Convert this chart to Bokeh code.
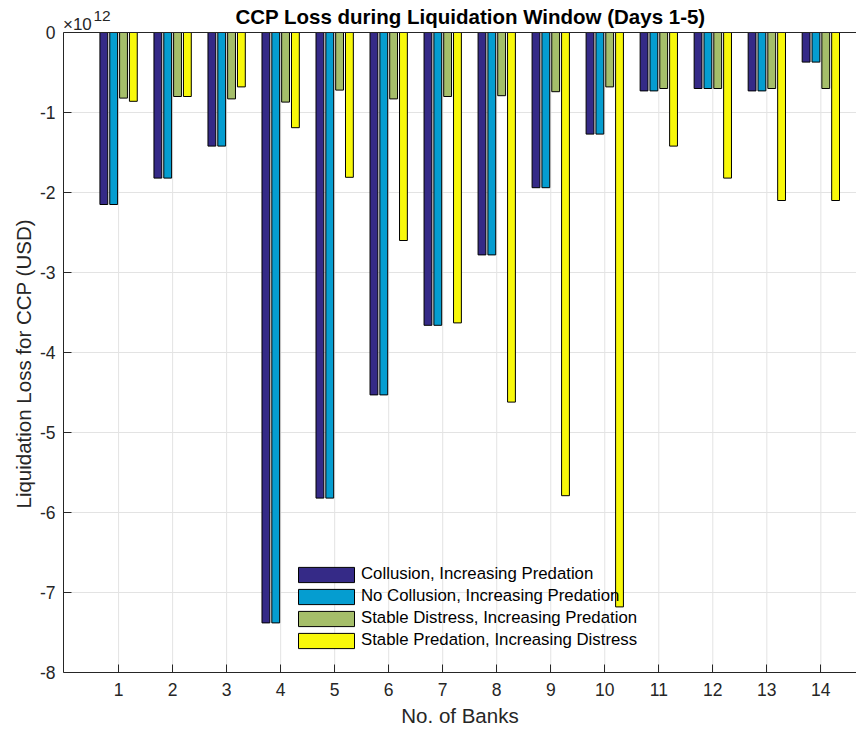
from bokeh.plotting import figure
from bokeh.models import Range1d, FixedTicker, ColumnDataSource, Legend, LegendItem, Label, Span, Title
from bokeh.transform import dodge
from bokeh.embed import file_html
from bokeh.resources import INLINE

banks = list(range(1, 15))
# values in units of 1e12 USD
collusion = [-2.15, -1.82, -1.42, -7.38, -5.82, -4.53, -3.66, -2.78, -1.94, -1.27, -0.73, -0.70, -0.73, -0.37]
no_collusion = [-2.15, -1.82, -1.42, -7.38, -5.82, -4.53, -3.66, -2.78, -1.94, -1.27, -0.73, -0.70, -0.73, -0.37]
stable_distress = [-0.82, -0.80, -0.83, -0.87, -0.72, -0.83, -0.80, -0.79, -0.74, -0.68, -0.70, -0.70, -0.70, -0.70]
stable_predation = [-0.86, -0.80, -0.68, -1.19, -1.81, -2.60, -3.63, -4.62, -5.79, -7.18, -1.42, -1.82, -2.10, -2.10]
series_names = ["Collusion, Increasing Predation", "No Collusion, Increasing Predation",
                "Stable Distress, Increasing Predation", "Stable Predation, Increasing Distress"]
colors = ["#352a87", "#059dd0", "#a5be6a", "#f8f80a"]
y_ticks = [-8, -7, -6, -5, -4, -3, -2, -1, 0]
title_text = "CCP Loss during Liquidation Window (Days 1-5)"
x_label = "No. of Banks"
y_label = "Liquidation Loss for CCP (USD)"

FONT = "Liberation Sans"
DARK = "#262626"
GRID = "#e3e3e3"

src = ColumnDataSource(dict(bank=banks, s0=collusion, s1=no_collusion, s2=stable_distress, s3=stable_predation))

p = figure(width=856, height=725, output_backend="svg", toolbar_location=None,
           x_range=Range1d(-0.02, 14.66), y_range=Range1d(-8.6625, 0.4),
           min_border_left=63, min_border_right=0, min_border_top=0, min_border_bottom=0)
p.outline_line_color = None
p.background_fill_color = "white"
p.border_fill_color = "white"

# vertical grid lines limited to the axes box
p.segment(x0=banks, y0=y_ticks[0], x1=banks, y1=y_ticks[-1], line_color=GRID, line_width=1, level="underlay")

offsets = [-0.273, -0.091, 0.091, 0.273]
items = []
for i, (off, col, name) in enumerate(zip(offsets, colors, series_names)):
    r = p.vbar(x=dodge("bank", off, range=p.x_range), top=0, bottom="s%d" % i, width=0.145,
               source=src, fill_color=col, line_color="#000000", line_width=1)
    items.append(LegendItem(label=name, renderers=[r]))

p.add_layout(Span(location=0, dimension="width", line_color=DARK, line_width=1))

for ax in (p.xaxis[0], p.yaxis[0]):
    ax.axis_line_color = DARK
    ax.major_tick_line_color = DARK
    ax.major_tick_in = 8
    ax.major_tick_out = 0
    ax.minor_tick_line_color = None
    ax.major_label_text_font = FONT
    ax.major_label_text_font_size = "17.5px"
    ax.major_label_text_color = DARK
    ax.axis_label_text_font = FONT
    ax.axis_label_text_font_size = "20.5px"
    ax.axis_label_text_font_style = "normal"
    ax.axis_label_text_color = DARK

p.xaxis.fixed_location = -8
p.xaxis.ticker = FixedTicker(ticks=banks)
p.yaxis.ticker = FixedTicker(ticks=y_ticks)
p.yaxis.bounds = (-8, 0)
p.yaxis.major_label_overrides = {t: str(t) for t in y_ticks}
p.xaxis.axis_label = x_label
p.xaxis.major_label_standoff = 10
p.yaxis.major_label_standoff = 8
p.xaxis.axis_label_standoff = 5

ytitle = Title(text=y_label, align="left", offset=217, standoff=4, text_font=FONT,
               text_font_size="20.5px", text_font_style="normal", text_color=DARK)
p.add_layout(ytitle, "left")

p.xgrid.visible = False
p.ygrid.ticker = FixedTicker(ticks=y_ticks)
p.ygrid.grid_line_color = GRID
p.ygrid.grid_line_width = 1

legend = Legend(items=items, location=(228, 75), orientation="vertical")
legend.border_line_color = None
legend.background_fill_alpha = 0
legend.padding = 0
legend.margin = 0
legend.spacing = 2
legend.glyph_width = 70
legend.glyph_height = 19
legend.label_height = 19
legend.label_standoff = 0
legend.label_text_font = FONT
legend.label_text_font_size = "16.8px"
legend.label_text_color = "#000000"
p.add_layout(legend, "center")

p.add_layout(Label(x=7.514, y=0.2, text=title_text, text_font=FONT, text_font_size="20.5px",
                   text_font_style="bold", text_color="#000000", text_align="center",
                   text_baseline="alphabetic"))
p.add_layout(Label(x=-0.03, y=0.104, text="\u00d710", text_font=FONT, text_font_size="17px",
                   text_color=DARK, text_baseline="alphabetic"))
p.add_layout(Label(x=0.535, y=0.21, text="12", text_font=FONT, text_font_size="15.5px",
                   text_color=DARK, text_baseline="alphabetic"))

open("out.html", "w").write(file_html(p, INLINE))
